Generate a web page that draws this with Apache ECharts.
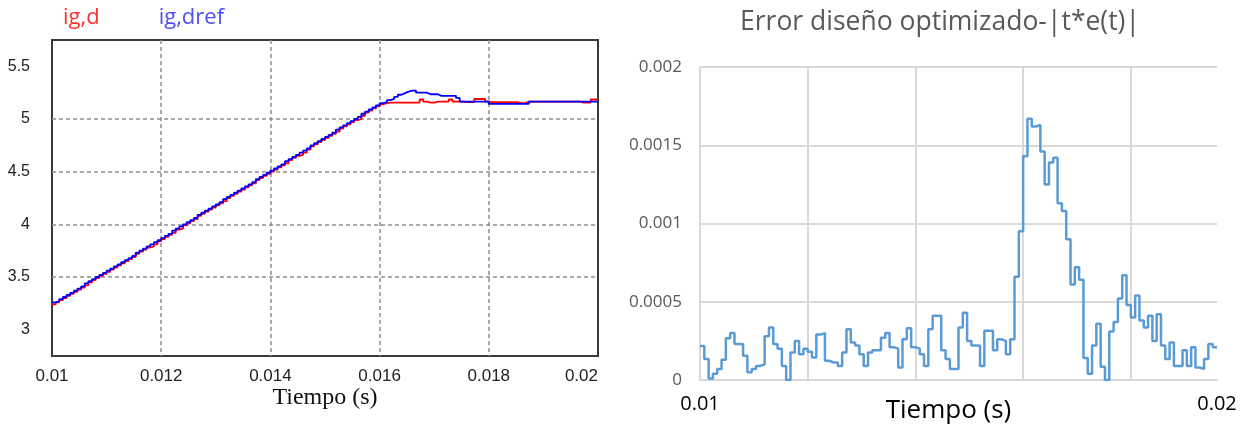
<!DOCTYPE html>
<html>
<head>
<meta charset="utf-8">
<script src="https://cdn.jsdelivr.net/npm/echarts@6/dist/echarts.min.js"></script>
<style>
  html, body { margin: 0; padding: 0; background: #fff; }
  #chart { width: 1244px; height: 425px; }
</style>
</head>
<body>
<div id="chart"></div>
<script>
// ---- Current loop: sampled at 15 kHz from t = 0.01 s ----
const curT0 = 0.01;
const curTs = 1 / 15000;
const curEnd = 0.02;

// measured current ig,d
const igD = [
  3.24, 3.26, 3.28, 3.30, 3.32, 3.34, 3.36, 3.38, 3.40, 3.42,
  3.45, 3.47, 3.49, 3.51, 3.53, 3.55, 3.57, 3.59, 3.61, 3.63,
  3.65, 3.67, 3.69, 3.72, 3.74, 3.76, 3.78, 3.79, 3.81, 3.84,
  3.86, 3.88, 3.90, 3.92, 3.95, 3.96, 3.99, 4.01, 4.03, 4.05,
  4.08, 4.10, 4.12, 4.14, 4.16, 4.18, 4.20, 4.22, 4.25, 4.27,
  4.29, 4.31, 4.33, 4.35, 4.37, 4.39, 4.42, 4.44, 4.46, 4.48,
  4.50, 4.52, 4.54, 4.56, 4.58, 4.61, 4.63, 4.65, 4.66, 4.68,
  4.71, 4.74, 4.76, 4.78, 4.80, 4.82, 4.84, 4.86, 4.88, 4.91,
  4.93, 4.95, 4.97, 4.99, 5.00, 5.03, 5.06, 5.08, 5.10, 5.12,
  5.14, 5.15, 5.155, 5.155, 5.155, 5.155, 5.155, 5.155, 5.155, 5.155,
  5.155, 5.185, 5.165, 5.155, 5.155, 5.165, 5.165, 5.165, 5.165, 5.185,
  5.165, 5.165, 5.165, 5.16, 5.16, 5.16, 5.19, 5.19, 5.19, 5.165,
  5.16, 5.16, 5.16, 5.16, 5.16, 5.16, 5.16, 5.16, 5.15, 5.15,
  5.165, 5.165, 5.165, 5.165, 5.165, 5.165, 5.165, 5.165, 5.165, 5.165,
  5.165, 5.165, 5.165, 5.165, 5.165, 5.155, 5.155, 5.155, 5.185, 5.185
];

// reference current ig,dref
const igDref = [
  3.26, 3.27, 3.29, 3.31, 3.33, 3.35, 3.37, 3.39, 3.41, 3.44,
  3.46, 3.48, 3.50, 3.52, 3.54, 3.56, 3.58, 3.60, 3.62, 3.64,
  3.66, 3.68, 3.70, 3.73, 3.75, 3.77, 3.79, 3.81, 3.83, 3.85,
  3.87, 3.89, 3.91, 3.94, 3.96, 3.98, 4.00, 4.02, 4.04, 4.06,
  4.09, 4.11, 4.13, 4.15, 4.17, 4.19, 4.21, 4.24, 4.26, 4.28,
  4.30, 4.32, 4.34, 4.36, 4.38, 4.40, 4.43, 4.45, 4.47, 4.49,
  4.51, 4.53, 4.55, 4.57, 4.60, 4.62, 4.64, 4.66, 4.68, 4.70,
  4.72, 4.75, 4.77, 4.79, 4.81, 4.83, 4.85, 4.87, 4.90, 4.92,
  4.94, 4.96, 4.98, 5.00, 5.02, 5.05, 5.07, 5.09, 5.11, 5.13,
  5.15, 5.16, 5.18, 5.19, 5.21, 5.23, 5.245, 5.26, 5.27, 5.27,
  5.25, 5.25, 5.25, 5.235, 5.235, 5.235, 5.22, 5.22, 5.22, 5.22,
  5.22, 5.20, 5.165, 5.165, 5.165, 5.165, 5.165, 5.165, 5.165, 5.165,
  5.143, 5.143, 5.143, 5.143, 5.143, 5.143, 5.143, 5.143, 5.143, 5.143,
  5.143, 5.165, 5.165, 5.165, 5.165, 5.165, 5.165, 5.165, 5.165, 5.165,
  5.165, 5.165, 5.165, 5.165, 5.165, 5.165, 5.165, 5.165, 5.165, 5.165
];

const curYTicks = [3, 3.5, 4, 4.5, 5, 5.5];

// ---- Weighted error |t*e(t)|: 120 held samples from t = 0.01 s ----
const errT0 = 0.01;
const errTs = 0.01 / 120;
const errEnd = 0.02;
const errVals = [
  0.000218, 0.000134, 0.00001, 0.00004, 0.00007, 0.00013, 0.000267, 0.0003, 0.00023, 0.00023,
  0.000155, 0.00005, 0.00007, 0.00009, 0.0001, 0.00028, 0.000335, 0.00023, 0.0002, 0.00009,
  0.0, 0.000176, 0.00025, 0.000165, 0.0002, 0.00018, 0.000144, 0.00029, 0.0003, 0.000123,
  0.000112, 0.000112, 0.00009, 0.000176, 0.000325, 0.00024, 0.00022, 0.000165, 0.00009, 0.000176,
  0.00019, 0.00019, 0.00027, 0.0003, 0.00021, 0.0002, 0.00008, 0.00026, 0.00033, 0.00021,
  0.0002, 0.000165, 0.00009, 0.000325, 0.00041, 0.00041, 0.00019, 0.000134, 0.00007, 0.00007,
  0.000335, 0.00043, 0.00025, 0.00022, 0.00022, 0.00009, 0.000314, 0.000314, 0.00019, 0.00026,
  0.00025, 0.000165, 0.00026, 0.00066, 0.00095, 0.00143, 0.00167, 0.00162, 0.00163, 0.00146,
  0.00125, 0.00139, 0.00142, 0.00113, 0.00108, 0.0009, 0.00061, 0.00072, 0.00064, 0.00014,
  0.00004, 0.00022, 0.00036, 0.000085, 0.0, 0.00031, 0.00037, 0.00052, 0.00067, 0.00048,
  0.0004, 0.00054, 0.00038, 0.000335, 0.00041, 0.00025, 0.00042, 0.00022, 0.000134, 0.00024,
  0.00009, 0.00009, 0.00019, 0.00009, 0.00021, 0.00008, 0.00007, 0.000134, 0.00023, 0.00021
];
const errSamples = 240;   // index axis used for the vertical grid

// pair held samples with their times and close the last hold at the end time
function holdSeries(t0, ts, vals, tEnd) {
  const pts = vals.map((v, i) => [t0 + i * ts, v]);
  pts.push([tEnd, vals[vals.length - 1]]);
  return pts;
}

const chart = echarts.init(document.getElementById('chart'), null, { renderer: 'canvas' });

const dashGrid = { show: true, lineStyle: { color: '#8f8f8f', width: 1.5, type: [4, 3] } };

chart.setOption({
  animation: false,
  backgroundColor: '#ffffff',
  title: [{
    text: 'Error diseño optimizado-|t*e(t)|',
    left: 935, top: 4, textAlign: 'center',
    textStyle: { fontFamily: 'Open Sans', fontSize: 26.5, fontWeight: 'normal', color: '#595959' }
  }],
  legend: {
    left: 53, top: 2, itemWidth: 0, itemHeight: 0, itemGap: 54, icon: 'none',
    selectedMode: false,
    textStyle: { fontFamily: 'Open Sans', fontSize: 22 },
    data: [
      { name: 'ig,d', textStyle: { color: '#ff3030' } },
      { name: 'ig,dref', textStyle: { color: '#5050f0' } }
    ]
  },
  grid: [
    { left: 52, top: 40, width: 546, height: 316, show: true, outerBoundsMode: 'none',
      borderColor: '#3a3a3a', borderWidth: 2, backgroundColor: '#ffffff' },
    { left: 700, top: 67, width: 517, height: 313, outerBoundsMode: 'none' }
  ],
  xAxis: [
    { gridIndex: 0, type: 'value', min: curT0, max: curEnd, interval: 0.002,
      axisLine: { show: false }, axisTick: { show: false },
      axisLabel: { fontFamily: 'Liberation Sans', fontSize: 17, color: '#222', margin: 12,
                   alignMaxLabel: 'right' },
      splitLine: Object.assign({ showMinLine: false, showMaxLine: false }, dashGrid),
      name: 'Tiempo (s)', nameLocation: 'middle', nameGap: 30, nameMoveOverlap: false,
      nameTextStyle: { fontFamily: 'Liberation Serif', fontSize: 24, color: '#111' } },
    { gridIndex: 1, type: 'value', min: errT0, max: errEnd, interval: 0.01,
      axisLine: { show: true, lineStyle: { color: '#d9d9d9', width: 2 } },
      axisTick: { show: false }, splitLine: { show: false },
      axisLabel: { fontFamily: 'Open Sans', fontSize: 20, color: '#000', margin: 14 },
      name: 'Tiempo (s)', nameLocation: 'middle', nameGap: 18, nameMoveOverlap: false,
      nameTextStyle: { fontFamily: 'Open Sans', fontSize: 26, color: '#000', padding: [0, 20, 0, 0] } },
    { gridIndex: 1, type: 'value', min: 0, max: errSamples, interval: 50,
      axisLine: { show: false }, axisTick: { show: false }, axisLabel: { show: false },
      splitLine: { show: true, showMaxLine: false, lineStyle: { color: '#d9d9d9', width: 2 } } }
  ],
  yAxis: [
    { gridIndex: 0, type: 'value', min: 2.75, max: 5.75,
      axisLine: { show: false },
      axisTick: { show: false, customValues: curYTicks },
      axisLabel: { customValues: curYTicks, fontFamily: 'Liberation Sans', fontSize: 16,
                   color: '#222', margin: 22 },
      splitLine: Object.assign({ showMinLine: false, showMaxLine: false }, dashGrid) },
    { gridIndex: 1, type: 'value', min: 0, max: 0.002, interval: 0.0005,
      axisLine: { show: false }, axisTick: { show: false },
      axisLabel: { fontFamily: 'Open Sans', fontSize: 17, color: '#595959', margin: 18 },
      splitLine: { show: true, showMinLine: false, lineStyle: { color: '#d9d9d9', width: 2 } } }
  ],
  series: [
    { name: 'ig,d', type: 'line', xAxisIndex: 0, yAxisIndex: 0, step: 'end',
      showSymbol: false, color: '#ff0000', lineStyle: { width: 1.8, color: '#ff0000' },
      data: holdSeries(curT0, curTs, igD, curEnd) },
    { name: 'ig,dref', type: 'line', xAxisIndex: 0, yAxisIndex: 0, step: 'end',
      showSymbol: false, color: '#0000ff', lineStyle: { width: 1.8, color: '#0000ff' },
      data: holdSeries(curT0, curTs, igDref, curEnd) },
    { name: '|t*e(t)|', type: 'line', xAxisIndex: 1, yAxisIndex: 1, step: 'end',
      showSymbol: false, lineStyle: { width: 2.5, color: '#5b9bd5' },
      data: holdSeries(errT0, errTs, errVals, errEnd) }
  ]
});
</script>
</body>
</html>
